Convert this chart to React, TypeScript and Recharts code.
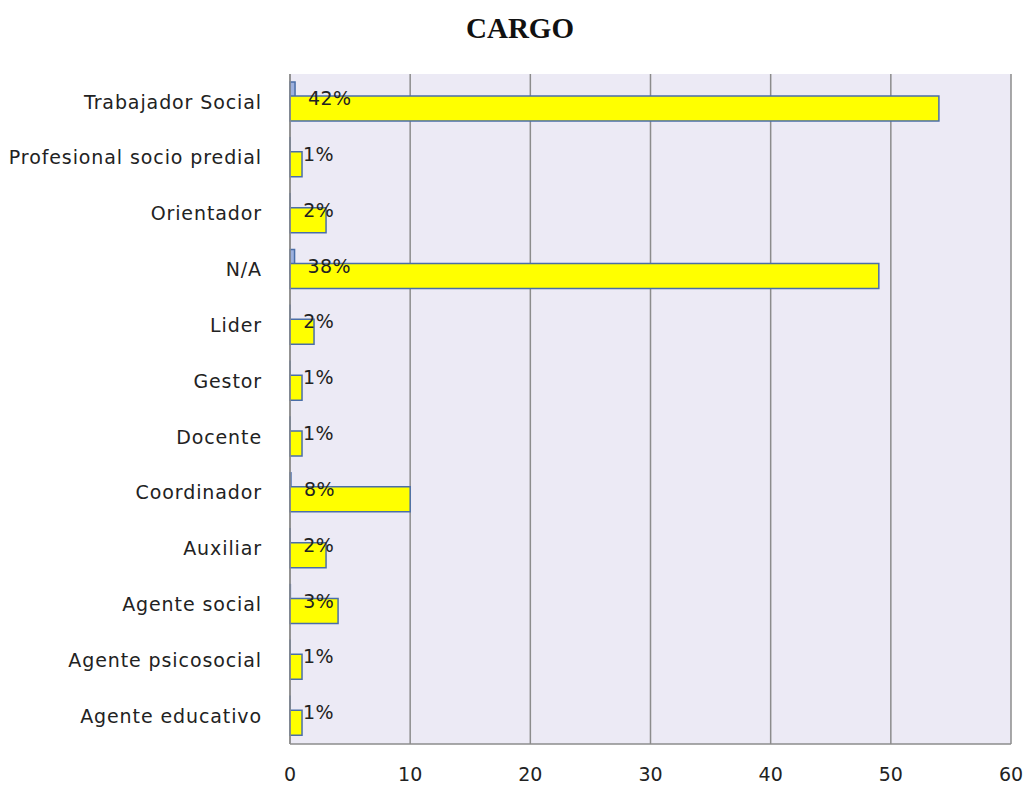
import React from 'react';
import { BarChart, Bar, XAxis, YAxis, CartesianGrid, LabelList } from 'recharts';

const categories = [
  'Trabajador Social',
  'Profesional socio predial',
  'Orientador',
  'N/A',
  'Lider',
  'Gestor',
  'Docente',
  'Coordinador',
  'Auxiliar',
  'Agente social',
  'Agente psicosocial',
  'Agente educativo',
];
const counts = [54, 1, 3, 49, 2, 1, 1, 10, 3, 4, 1, 1];
const shares = [0.42, 0.01, 0.02, 0.38, 0.02, 0.01, 0.01, 0.08, 0.02, 0.03, 0.01, 0.01];
const xTicks = [0, 10, 20, 30, 40, 50, 60];

const data = categories.map((name, i) => ({ name, share: shares[i], count: counts[i] }));

const FONT = '"DejaVu Sans", Verdana, sans-serif';

const ShareLabel = (p: any) => {
  const x = Number(p.x) + Number(p.width) + 13;
  const y = Number(p.y) + Number(p.height) / 2 + 4;
  return (
    <text
      x={x}
      y={y}
      dominantBaseline="central"
      textAnchor="start"
      style={{ fontFamily: FONT, fontSize: 19, fill: '#222', letterSpacing: '0.4px' }}
    >
      {`${Math.round(Number(p.value) * 100)}%`}
    </text>
  );
};

export default function App() {
  return (
    <div style={{ position: 'absolute', left: 0, top: 0, width: 1028, height: 785, overflow: 'hidden', background: '#fff' }}>
      <div
        style={{
          position: 'absolute',
          left: 420,
          top: 14,
          width: 200,
          textAlign: 'center',
          fontFamily: '"Liberation Serif", "Times New Roman", serif',
          fontWeight: 'bold',
          fontSize: 29,
          lineHeight: '29px',
          color: '#111',
        }}
      >
        CARGO
      </div>
      <BarChart
        width={1028}
        height={800}
        data={data}
        layout="vertical"
        margin={{ top: 74, right: 17, left: 0, bottom: 0 }}
        barGap={-10}
      >
        <CartesianGrid horizontal={false} vertical={true} fill="#ECEAF5" stroke="#8c8c8c" strokeWidth={1.5} />
        <XAxis
          type="number"
          domain={[0, 60]}
          ticks={xTicks}
          height={56}
          axisLine={{ stroke: '#8c8c8c', strokeWidth: 1.5 }}
          tickLine={false}
          tickSize={0}
          tickMargin={24}
          tick={{ fontFamily: FONT, fontSize: 19, fill: '#222' }}
          interval={0}
        />
        <YAxis
          type="category"
          dataKey="name"
          width={290}
          axisLine={{ stroke: '#8c8c8c', strokeWidth: 1.5 }}
          tickLine={false}
          tickSize={0}
          tickMargin={28}
          interval={0}
          tick={{ fontFamily: FONT, fontSize: 19, fill: '#222', style: { letterSpacing: '0.9px' } }}
        />
        <Bar dataKey="share" barSize={24} fill="#9DB0DE" stroke="#4A6EA8" strokeWidth={1.5} isAnimationActive={false}>
          <LabelList dataKey="share" content={ShareLabel} />
        </Bar>
        <Bar dataKey="count" barSize={25} fill="#FFFF00" stroke="#4A6EA8" strokeWidth={1.5} isAnimationActive={false} />
      </BarChart>
    </div>
  );
}
